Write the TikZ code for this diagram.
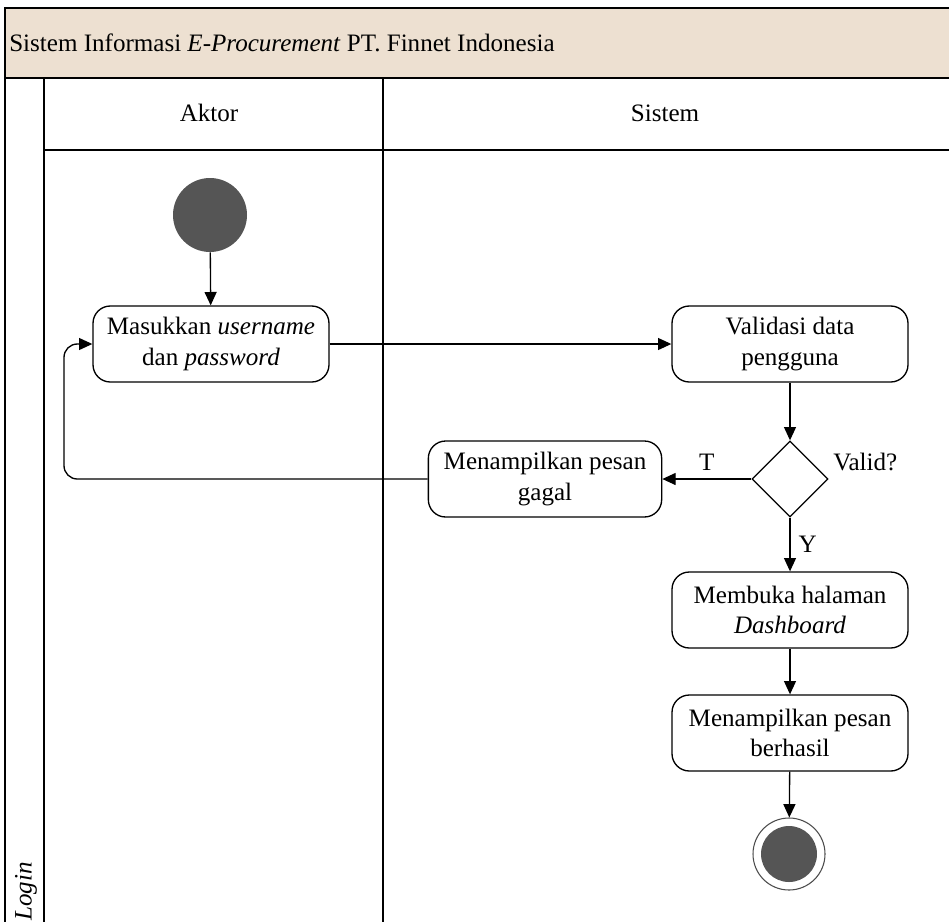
\documentclass[tikz,border=0pt]{standalone}
\usepackage{fontspec}
\setmainfont{Liberation Serif}
\usetikzlibrary{arrows.meta,shapes.geometric}
\definecolor{hdrfill}{HTML}{EDE0D1}
\definecolor{dotfill}{HTML}{555555}
\begin{document}
\begin{tikzpicture}[x=0.75pt,y=-0.75pt,
  txt/.style={font=\fontsize{18.8}{23}\selectfont},
  lane/.style={draw=black, line width=1pt},
  act/.style={draw, line width=1pt, rounded corners=13pt, minimum width=177pt, minimum height=57pt, align=center, inner sep=2pt, txt},
  dec/.style={draw, line width=1pt, diamond, aspect=1, minimum width=57pt, minimum height=57pt, inner sep=0pt},
  arr/.style={draw, line width=1pt, -{Triangle[length=10pt,width=9pt]}},
  lbl/.style={txt, inner sep=0pt}]
\useasboundingbox (0,0) rectangle (949,922);
% frame
\fill[hdrfill] (5,8) rectangle (949,78);
\draw[lane] (949,8) -- (5,8) -- (5,922);
\draw[lane] (5,78) -- (949,78);
\draw[lane] (44,78) -- (44,922);
\draw[lane] (44,150) -- (949,150);
\draw[lane] (383,78) -- (383,922);
\node[txt, anchor=west, inner sep=0pt] (title) at (9,43) {Sistem Informasi \textit{E-Procurement} PT. Finnet Indonesia};
\node[txt, inner sep=0pt] (aktor) at (209,113) {Aktor};
\node[txt, inner sep=0pt] (sistem) at (665,113) {Sistem};
\node[txt, rotate=90, anchor=west, inner sep=0pt] (login) at (26,921) {\textit{Login}};
% nodes
\node[circle, fill=dotfill, minimum size=55.5pt, inner sep=0pt] (start) at (210,215) {};
\node[act] (masuk) at (211,344) {Masukkan \textit{username}\\dan \textit{password}};
\node[act] (valid) at (790,344) {Validasi data\\pengguna};
\node[dec] (cek) at (790,479) {};
\node[lbl, anchor=west] (vq) at (833,462) {Valid?};
\node[act, minimum width=175pt] (gagal) at (545,479) {Menampilkan pesan\\gagal};
\node[act] (dash) at (790,610) {Membuka halaman\\\textit{Dashboard}};
\node[act] (hasil) at (790,733) {Menampilkan pesan\\berhasil};
\node[circle, draw=black!70, line width=0.8pt, minimum size=54pt, inner sep=0pt] (end) at (789,854) {};
\fill[dotfill] (end.center) circle (21pt);
\coordinate (lb) at (64,479);
\coordinate (lt) at (64,344);
% edges
\draw[arr] (start) -- (masuk);
\draw[arr] (masuk) -- (valid);
\draw[arr] (valid) -- (cek);
\draw[arr] (cek) -- node[lbl, above, yshift=6pt] (tl) {T} (gagal);
\draw[arr] (cek) -- node[lbl, right, xshift=6pt] (yl) {Y} (dash);
\draw[arr, rounded corners=10pt] (gagal.west) -- (lb) -- (lt) -- (masuk.west);
\draw[arr] (dash) -- (hasil);
\draw[arr] (hasil) -- (end);
\end{tikzpicture}
\end{document}
